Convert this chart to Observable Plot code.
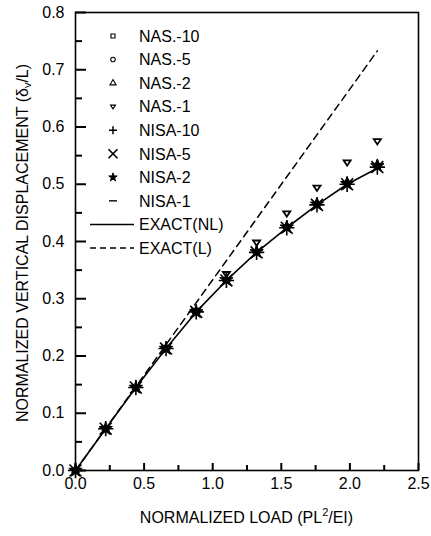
<!DOCTYPE html>
<html><head><meta charset="utf-8">
<script src="https://cdn.jsdelivr.net/npm/d3@7"></script>
<script src="https://cdn.jsdelivr.net/npm/@observablehq/plot@0.6"></script>
<style>body{margin:0;background:#fff} #wrap{width:431px;height:536px}</style>
</head><body><div id="wrap"></div>
<script>
// ---- data ----
const load     = [0, 0.22, 0.44, 0.66, 0.88, 1.10, 1.32, 1.54, 1.76, 1.98, 2.20];
const exactNL  = [0, 0.073, 0.145, 0.213, 0.277, 0.332, 0.381, 0.424, 0.464, 0.500, 0.528];
const exactLx  = [0, 2.20];
const exactLy  = [0, 0.733];
const nas10    = [0, 0.073, 0.145, 0.213, 0.277, 0.333, 0.382, 0.425, 0.465, 0.501, 0.531];
const nas5     = [0, 0.073, 0.145, 0.213, 0.277, 0.333, 0.382, 0.426, 0.466, 0.502, 0.532];
const nas2     = [0, 0.073, 0.145, 0.214, 0.278, 0.334, 0.384, 0.428, 0.468, 0.505, 0.535];
const nas1     = [0, 0.073, 0.145, 0.214, 0.279, 0.343, 0.398, 0.449, 0.494, 0.538, 0.575];
const nisa10   = [0, 0.073, 0.145, 0.213, 0.277, 0.332, 0.381, 0.424, 0.464, 0.500, 0.530];
const nisa5    = [0, 0.073, 0.145, 0.213, 0.277, 0.332, 0.381, 0.424, 0.464, 0.500, 0.530];
const nisa2    = [0, 0.073, 0.145, 0.213, 0.277, 0.333, 0.382, 0.425, 0.465, 0.501, 0.532];
const nisa1    = [0, 0.073, 0.145, 0.213, 0.277, 0.332, 0.381, 0.424, 0.464, 0.500, 0.530];
const xTicks   = [0, 0.5, 1.0, 1.5, 2.0, 2.5];
const xMinor   = [0.25, 0.75, 1.25, 1.75, 2.25];
const yTicks   = [0, 0.1, 0.2, 0.3, 0.4, 0.5, 0.6, 0.7, 0.8];
const yMinor   = [0.05, 0.15, 0.25, 0.35, 0.45, 0.55, 0.65, 0.75];
const legendLabels = ["NAS.-10","NAS.-5","NAS.-2","NAS.-1","NISA-10","NISA-5","NISA-2","NISA-1","EXACT(NL)","EXACT(L)"];

// ---- custom symbols ----
const triDown = {draw(c, size){ const s = Math.sqrt(size)/1.6; c.moveTo(-s, -s*0.6); c.lineTo(s, -s*0.6); c.lineTo(0, s*0.9); c.closePath(); }};
const dash = {draw(c, size){ const s = Math.sqrt(size)/1.2; c.moveTo(-s, 0); c.lineTo(s, 0); }};

const pts = ys => load.map((x, i) => ({x, y: ys[i]}));
const W = 431, H = 536, ML = 75, MR = 13, MT = 12, MB = 66;
const FW = W - ML - MR, FH = H - MT - MB;
const font = "'Liberation Sans', Arial, Helvetica, sans-serif";

const chart = Plot.plot({
  width: W, height: H,
  marginLeft: ML, marginRight: MR, marginTop: MT, marginBottom: MB,
  style: {fontFamily: font, fontSize: "16px", background: "white", color: "black"},
  x: {domain: [0, 2.5]},
  y: {domain: [0, 0.8]},
  marks: [
    Plot.axisX({ticks: xTicks, tickSize: 0, tickPadding: 7, tickFormat: d3.format(".1f"), label: null, fill: "black"}),
    Plot.axisY({ticks: yTicks, tickSize: 0, tickPadding: 11, tickFormat: d3.format(".1f"), label: null, fill: "black"}),
    Plot.frame({stroke: "black", strokeWidth: 1.6}),
    Plot.tickX(xTicks, {x: d => d, insetTop: FH - 7, stroke: "black", strokeWidth: 2}),
    Plot.tickX(xMinor, {x: d => d, insetTop: FH - 5, stroke: "black", strokeWidth: 2}),
    Plot.tickY(yTicks, {y: d => d, insetRight: FW - 11, stroke: "black", strokeWidth: 2}),
    Plot.tickY(yMinor, {y: d => d, insetRight: FW - 7, stroke: "black", strokeWidth: 2}),
    Plot.line(exactLx.map((x, i) => ({x, y: exactLy[i]})), {x: "x", y: "y", stroke: "black", strokeWidth: 1.5, strokeDasharray: "7,5"}),
    Plot.line(pts(exactNL), {x: "x", y: "y", stroke: "black", strokeWidth: 1.6}),
    Plot.dot(pts(nas10), {x: "x", y: "y", symbol: "square", r: 2.2, stroke: "black", strokeWidth: 1.2}),
    Plot.dot(pts(nas5), {x: "x", y: "y", symbol: "circle", r: 2.2, stroke: "black", strokeWidth: 1.2}),
    Plot.dot(pts(nas2), {x: "x", y: "y", symbol: "triangle", r: 2.5, stroke: "black", strokeWidth: 1.2}),
    Plot.dot(pts(nas1), {x: "x", y: "y", symbol: triDown, r: 3.2, stroke: "black", fill: "white", strokeWidth: 1.8}),
    Plot.dot(pts(nisa10), {x: "x", y: "y", symbol: "plus", r: 5, stroke: "black", strokeWidth: 1.6}),
    Plot.dot(pts(nisa5), {x: "x", y: "y", symbol: "times", r: 5.5, stroke: "black", strokeWidth: 1.6}),
    Plot.dot(pts(nisa2), {x: "x", y: "y", symbol: "star", r: 4.2, fill: "black", stroke: "black", strokeWidth: 1}),
    Plot.dot(pts(nisa1), {x: "x", y: "y", symbol: dash, r: 3, stroke: "black", strokeWidth: 1.4})
  ]
});
document.getElementById("wrap").append(chart);

const svg = d3.select(chart);

// ---- axis titles with sub/superscripts ----
const yl = svg.append("text").attr("transform", "translate(28,243) rotate(-90)")
  .attr("text-anchor", "middle").attr("font-family", font).attr("font-size", 16).attr("fill", "black");
yl.append("tspan").text("NORMALIZED VERTICAL DISPLACEMENT (δ");
yl.append("tspan").attr("font-size", 11).attr("dy", 3).text("v");
yl.append("tspan").attr("dy", -3).text("/L)");

const xl = svg.append("text").attr("x", ML + FW / 2).attr("y", 523)
  .attr("text-anchor", "middle").attr("font-family", font).attr("font-size", 16).attr("fill", "black");
xl.append("tspan").text("NORMALIZED LOAD (PL");
xl.append("tspan").attr("font-size", 11).attr("dy", -7).text("2");
xl.append("tspan").attr("dy", 7).text("/EI)");

// ---- legend ----
const legSyms = [
  {type: d3.symbolSquare, size: 16, fill: "none", sw: 1.1},
  {type: d3.symbolCircle, size: 16, fill: "none", sw: 1.1},
  {type: d3.symbolTriangle, size: 16, fill: "none", sw: 1.1},
  {type: triDown, size: 16, fill: "none", sw: 1.1},
  {plus: 4},
  {times: 4.5},
  {type: d3.symbolStar, size: 22, fill: "black", sw: 1},
  {dash: 4}
];
const lg = svg.append("g").attr("font-family", font).attr("font-size", 16).attr("fill", "black").attr("text-anchor", "start");
legendLabels.forEach((lab, i) => {
  const y = 36 + i * 23.55;
  lg.append("text").attr("x", 139).attr("y", y).attr("dy", "0.36em").attr("text-anchor", "start").text(lab);
  if (i < 8) {
    const s = legSyms[i];
    const g = lg.append("g").attr("transform", `translate(113,${y})`).attr("stroke", "black").attr("fill", "none");
    if (s.plus) { g.append("path").attr("d", `M${-s.plus},0H${s.plus}M0,${-s.plus}V${s.plus}`).attr("stroke-width", 1.5); }
    else if (s.times) { g.append("path").attr("d", `M${-s.times},${-s.times}L${s.times},${s.times}M${-s.times},${s.times}L${s.times},${-s.times}`).attr("stroke-width", 1.6); }
    else if (s.dash) { g.append("path").attr("d", `M${-s.dash},0H${s.dash}`).attr("stroke-width", 1.4); }
    else { g.append("path").attr("d", d3.symbol(s.type, s.size)()).attr("fill", s.fill).attr("stroke-width", s.sw); }
  } else {
    lg.append("line").attr("x1", 90).attr("x2", 134).attr("y1", y).attr("y2", y)
      .attr("stroke", "black").attr("stroke-width", 1.5).attr("stroke-dasharray", i === 9 ? "6,4" : null);
  }
});
</script></body></html>
